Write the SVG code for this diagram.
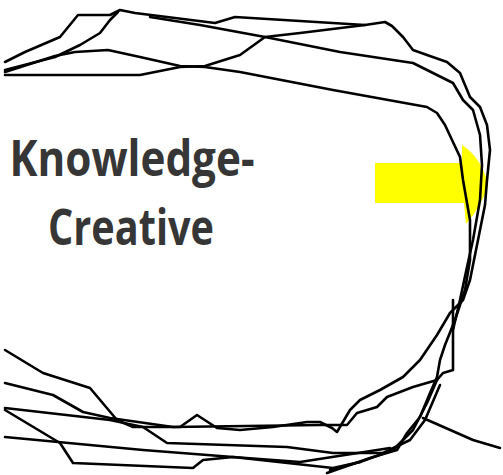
<svg xmlns="http://www.w3.org/2000/svg" width="503" height="475" viewBox="0 0 503 475">
<style>
.s{fill:none;stroke:#000;stroke-width:2.6;stroke-linejoin:round;stroke-linecap:round}
.t{font-family:"Open Sans","Noto Sans",sans-serif;font-weight:700;font-size:50px;fill:#363636;text-anchor:middle}
</style>
<rect width="503" height="475" fill="#fff"/>
<g id="highlight">
<path d="M375,163 L462,163 L462,145 Q482,158 488,185 Q482,206 466,224 L464,203 L375,203 Z" fill="#ffff00"/>
</g>
<g id="label">
<text class="t" x="132" y="176" textLength="245" lengthAdjust="spacingAndGlyphs">Knowledge-</text>
<text class="t" x="131" y="245" textLength="166" lengthAdjust="spacingAndGlyphs">Creative</text>
</g>
<g id="scribble">
<path class="s" d="M5,62 L25,52 L60,37 L78,15 L110,15 L120,10 L135,13 L215,23 L235,17 L365,25 L385,22 L392,26 L403,37 L413,50 L427,55 L447,62 L460,73 L470,97 L480,107 L487,125 L490,150 L487,180 L485,205 L478,240 L470,280 L463,300 L450,313 L437,335 L420,360 L403,377 L380,390 L360,400 L350,410 L337,432 L332,428 L320,422 L307,422 L273,427 L240,430 L217,428 L197,415 L180,427 L133,427 L117,420 L90,388 L43,373 L5,350"/>
<path class="s" d="M5,70 L55,57 L80,45 L100,33 L110,20 L118,12 M150,17 L200,25 L265,37 L340,52 L413,63 L453,83 L463,100 L473,110 L480,135 L482,165 L480,200 L473,240 L467,267 L460,300 L453,330"/>
<path class="s" d="M5,72 L55,56 L75,52 L108,50 L140,57 L180,66 L205,67 L240,72 L333,90 L427,107 L437,113 L445,125 L460,157 L463,180 L470,220 L470,260 L465,290 L455,320 L445,345 L440,360 L437,377 L430,393 L420,417 L407,433 L397,450 L380,455 L370,458 L327,473"/>
<path class="s" d="M5,75 L140,75 L180,67 L205,66 L240,55 L265,37 L300,33 L365,25"/>
<path class="s" d="M453,300 L453,370 L443,373 L437,380 L427,403 L413,430 L393,450 L360,462 L330,470"/>
<path class="s" d="M423,418 L473,440 L500,448"/>
<path class="s" d="M5,383 L53,395 L83,412 L110,418 L173,427 L320,425 L347,425 L357,413 L377,407 L387,397 L413,387 L437,380"/>
<path class="s" d="M5,408 L110,420 L143,427 L167,443 L287,447 L333,453 L383,453 L410,440 L425,420 L440,385"/>
<path class="s" d="M5,410 L60,443 L73,463 L193,468 L203,460 L233,457 L333,468 L360,462"/>
<path class="s" d="M5,437 L143,450 L233,457 L300,462 L390,448"/>
</g>
</svg>
